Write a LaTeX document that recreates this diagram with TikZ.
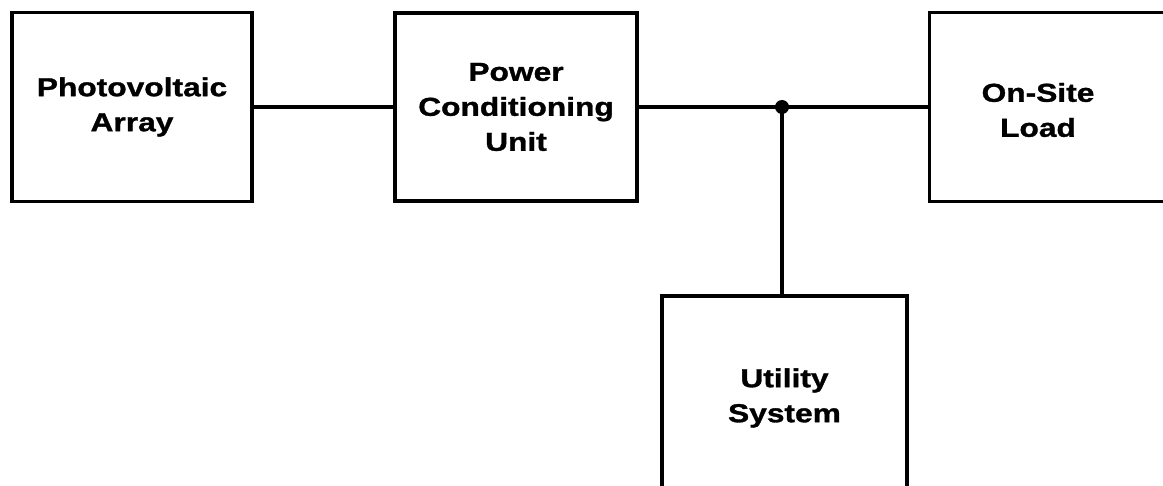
\documentclass[tikz,border=0pt]{standalone}
\usepackage{fontspec}
\newfontfamily\boxfont{Liberation Sans}[FakeStretch=1.22,BoldFeatures={FakeBold=1.2}]
\tikzset{
  block/.style={draw, line width=3.2pt, inner sep=0pt},
  lbl/.style={align=center, font=\boxfont\bfseries\fontsize{26}{35}\selectfont},
  wire/.style={line width=3.6pt}
}

\begin{document}
\begin{tikzpicture}[x=1pt,y=-1pt]
\useasboundingbox (0,0) rectangle (1163,486);
\clip (0,0) rectangle (1163,486);
% blocks
\node[block,lbl,minimum width=240pt,minimum height=189pt] (pv) at (132,107) {Photovoltaic\\Array};
\node[block,lbl,minimum width=242pt,minimum height=188pt] (pcu) at (516,107) {Power\\Conditioning\\Unit};
\node[block,minimum width=260pt,minimum height=189pt,anchor=west] (load) at (928,107) {};
\node[lbl] (loadtxt) at (1038,110) {On-Site\\Load};
\node[block,lbl,minimum width=245pt,minimum height=204pt] (util) at (784.5,398) {Utility\\System};
\coordinate (jn) at (782,107);
% connections
\draw[wire] (pv.east) -- (pcu.west);
\draw[wire] (pcu.east) -- (jn) -- (jn -| load.west);
\draw[wire] (jn) -- (jn |- util.north);
\fill (jn) circle (7pt);
\end{tikzpicture}
\end{document}
